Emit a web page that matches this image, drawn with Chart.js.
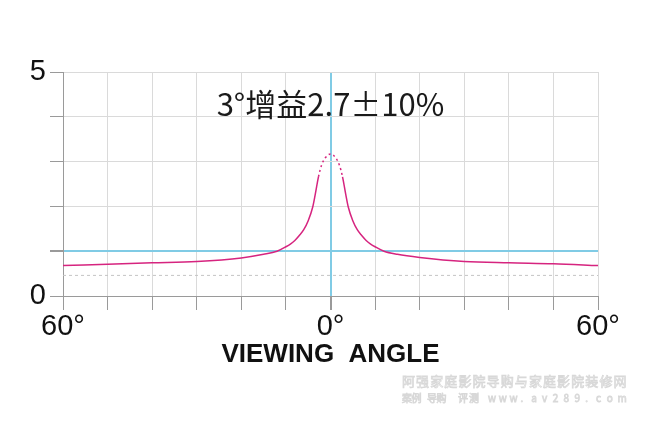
<!DOCTYPE html>
<html>
<head>
<meta charset="utf-8">
<script src="https://cdn.jsdelivr.net/npm/chart.js@4"></script>
<style>
  html, body { margin: 0; padding: 0; background: #ffffff; }
  #wrap { width: 650px; height: 430px; }
</style>
</head>
<body>
<div id="wrap"><canvas id="c" width="650" height="430"></canvas></div>
<script>
// Viewing angle (degrees) and relative gain of the screen
const angles = [-60, -50, -40, -30, -20, -15, -12, -10, -9, -8, -7, -6, -5, -4, -3.4, -2.7, -2, -1.2, 0,
                1.2, 2, 2.7, 3.4, 4, 5, 6, 7, 8, 9, 10, 12, 15, 20, 30, 40, 50, 60];
const gain = [0.68, 0.71, 0.74, 0.77, 0.85, 0.93, 1.00, 1.10, 1.16, 1.24, 1.35, 1.48, 1.68, 1.98, 2.28, 2.66, 2.92, 3.08, 3.17,
              3.08, 2.92, 2.66, 2.28, 1.98, 1.68, 1.48, 1.35, 1.24, 1.16, 1.10, 1.00, 0.93, 0.86, 0.77, 0.74, 0.72, 0.68];
const peakZone = 2.7;          // inside this angle the curve is drawn dotted
const referenceGain = 1;       // unity gain line
const floorGain = 0.46;        // dashed lower reference
const xTickLabels = { '-60': '60°', '0': '0°', '60': '60°' };
const yTickLabels = { '0': '0', '5': '5' };
const headline = '3°增益2.7±10%';
const xTitle = 'VIEWING  ANGLE';
const siteLine1 = '阿强家庭影院导购与家庭影院装修网';
const siteLine2 = ['案例', '导购', '评测', 'www.av289.com'];

const curvePoints = angles.map((a, i) => ({ x: a, y: gain[i] }));
const floorPoints = [{ x: -60, y: floorGain }, { x: 60, y: floorGain }];

const BLUE = '#80cbe5';
const GRID = '#dadada';
const TICK = '#9a9a9a';

const overlayText = {
  id: 'overlayText',
  afterDraw(chart) {
    const { ctx, scales } = chart;
    ctx.save();
    // headline above the peak
    ctx.fillStyle = '#1a1a1a';
    ctx.font = '31px "Noto Sans CJK SC", "Noto Sans", sans-serif';
    ctx.textAlign = 'center';
    ctx.textBaseline = 'middle';
    ctx.fillText(headline, scales.x.getPixelForValue(0), 104);

    // hollow site caption in the lower right corner
    ctx.strokeStyle = '#d8d8d8';
    ctx.lineWidth = 0.8;
    ctx.textAlign = 'left';
    ctx.textBaseline = 'middle';
    ctx.font = '13px "Noto Sans CJK SC", sans-serif';
    [...siteLine1].forEach((ch, i) => ctx.strokeText(ch, 402 + i * 14.1, 381));
    ctx.font = '10px "Noto Sans CJK SC", sans-serif';
    const starts = [402, 427, 458, 488];
    const steps = [9.5, 9.5, 11, 10.8];
    siteLine2.forEach((word, w) => {
      [...word].forEach((ch, i) => ctx.strokeText(ch, starts[w] + i * steps[w], 398));
    });
    ctx.restore();
  }
};

new Chart(document.getElementById('c'), {
  type: 'scatter',
  data: {
    datasets: [
      {
        data: floorPoints,
        showLine: true,
        borderColor: '#c4c4c4',
        borderWidth: 1,
        borderDash: [3, 3],
        pointRadius: 0
      },
      {
        data: curvePoints,
        showLine: true,
        borderColor: '#d6247f',
        borderWidth: 1.5,
        pointRadius: 0,
        cubicInterpolationMode: 'monotone',
        segment: {
          borderDash: ctx => (Math.abs(ctx.p0.parsed.x) <= peakZone && Math.abs(ctx.p1.parsed.x) <= peakZone) ? [2, 3] : undefined
        }
      }
    ]
  },
  options: {
    responsive: false,
    animation: false,
    layout: { padding: { left: 0, top: 72, right: 52, bottom: 62 } },
    plugins: { legend: { display: false }, tooltip: { enabled: false } },
    scales: {
      x: {
        type: 'linear',
        min: -60, max: 60,
        afterFit(scale) { scale.height = 72; },
        ticks: {
          stepSize: 10,
          autoSkip: false,
          maxRotation: 0,
          padding: 0,
          color: '#111',
          font: { family: '"Liberation Sans", Arial, sans-serif', size: 29 },
          callback: v => xTickLabels[String(v)] || ''
        },
        grid: {
          color: ctx => ctx.tick && ctx.tick.value === 0 ? BLUE : GRID,
          lineWidth: ctx => ctx.tick && ctx.tick.value === 0 ? 2 : 1,
          tickColor: TICK,
          tickLength: 14
        },
        border: { color: TICK, width: 1 },
        title: {
          display: true,
          text: xTitle,
          color: '#111',
          padding: 0,
          font: { family: '"Liberation Sans", Arial, sans-serif', size: 26, weight: 'bold', lineHeight: 1 }
        }
      },
      y: {
        min: 0, max: 5,
        afterFit(scale) { scale.width = 63; },
        ticks: {
          stepSize: 1,
          padding: 4,
          color: '#111',
          font: { family: '"Liberation Sans", Arial, sans-serif', size: 29 },
          callback: v => yTickLabels[String(v)] || ''
        },
        grid: {
          color: ctx => ctx.tick && ctx.tick.value === referenceGain ? BLUE : GRID,
          lineWidth: ctx => ctx.tick && ctx.tick.value === referenceGain ? 2 : 1,
          tickColor: TICK,
          tickLength: 13
        },
        border: { color: TICK, width: 1 }
      }
    }
  },
  plugins: [overlayText]
});
</script>
</body>
</html>
